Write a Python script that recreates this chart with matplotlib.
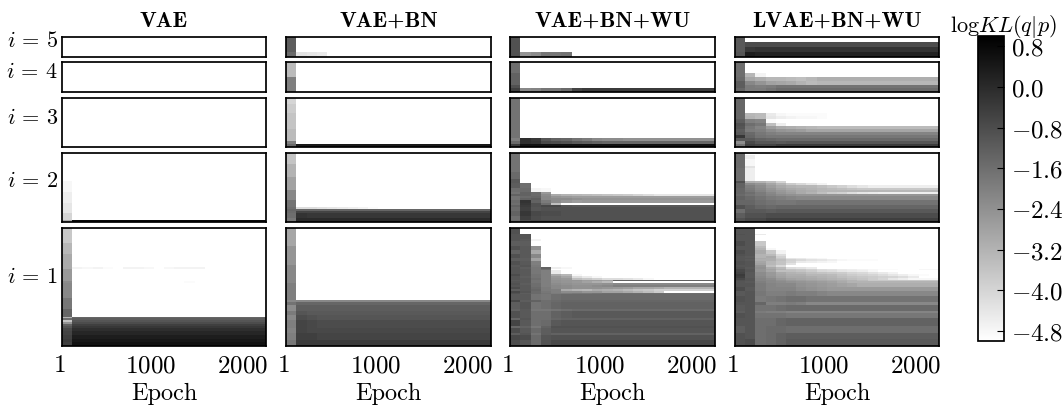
#!/usr/bin/env python3
"""KL heatmaps per latent layer, one column per model."""
import numpy as np
import matplotlib
matplotlib.use("Agg")
import matplotlib.pyplot as plt
from matplotlib.transforms import ScaledTranslation

plt.rcParams['mathtext.fontset'] = 'cm'
plt.rcParams['font.family'] = ['cmr10', 'DejaVu Sans']
plt.rcParams['axes.unicode_minus'] = False
plt.rcParams['axes.formatter.use_mathtext'] = True

W, H = 1063, 406

MODELS = ['VAE', 'VAE+BN', 'VAE+BN+WU', 'LVAE+BN+WU']
LAYERS = [5, 4, 3, 2, 1]
N_BINS = 20
EPOCH_START, EPOCH_END = 1, 2230
XTICKS = [1, 1000, 2000]
CBAR_TICKS = [0.8, 0.0, -0.8, -1.6, -2.4, -3.2, -4.0, -4.8]
VMIN, VMAX = -5.0, 1.0

# panels: top to bottom (i=5..1). Each row is (latent units, log KL per epoch bin);
# a short row keeps its last value for the remaining bins.
VAE_I5 = [(4, [-5])]
VAE_I4 = [(8, [-5])]
VAE_I3 = [(16, [-5])]
VAE_I2 = [(13, [-5]), (5, [-4.8, -5]), (5, [-4.6, -5]), (5, [-4.4, -5]),
          (3, [-4.0, -5]), (1, [-3.0, 0.8])]
VAE_I1 = [(8, [-3.7, -5]), (6, [-3.3, -5]), (7, [-3.0, -5]),
          (1, [-3.0, -4.7, -4.8, -4.7, -4.9, -5, -4.7, -4.7, -4.8, -5, -4.8, -4.7, -4.7, -4.7, -5]),
          (7, [-2.6, -5]),
          (1, [-2.3, -5, -5, -5, -5, -5, -5, -5, -5, -5, -5, -5, -4.9, -5]),
          (8, [-2.2, -5]), (6, [-1.8, -5]), (4, [-1.4, -5]),
          (1, [-3.2, -1.4]), (1, [-1.6, -1.2]), (1, [-3.6, -1.0]), (1, [-2.5, -0.8]),
          (1, [-1.3, -0.5]), (1, [-1.0, -0.3]), (2, [-0.7, -0.1]), (2, [-0.6, 0.1]),
          (2, [-0.5, 0.3]), (2, [-0.4, 0.45]), (2, [-0.5, 0.6])]

BN_I5 = [(3, [-1.2, -5]), (1, [-1.5, -4.3, -4.4, -4.5, -5])]
BN_I4 = [(4, [-3.4, -5]), (4, [-2.0, -5])]
BN_I3 = [(2, [-4.0, -5]), (3, [-3.8, -5]), (5, [-3.6, -5]), (4, [-3.4, -5]),
         (1, [-2.0, -5]), (1, [-1.5, 0.4])]
BN_I2 = [(5, [-3.6, -5]), (6, [-3.2, -5]), (6, [-2.8, -5]), (5, [-2.2, -5]), (3, [-1.7, -5]),
         (1, [-1.6, -4.2, -4.2, -4.3, -4.4, -4.5, -4.6, -4.7, -4.9, -5]),
         (1, [-1.4, -1.4]), (1, [-1.5, -0.6]), (2, [-1.6, -0.2, -0.3]), (2, [-1.8, 0.0])]
BN_I1 = [(10, [-2.9, -5]), (10, [-2.5, -5]), (10, [-2.2, -5]), (9, [-2.0, -5]),
         (1, [-2.2, -2.2]), (2, [-1.7, -1.4]), (3, [-2.3, -1.2]), (2, [-1.9, -1.0, -1.1]),
         (3, [-2.2, -0.8, -0.9, -1.0]), (4, [-2.0, -0.6, -0.7, -0.8]), (3, [-2.1, -0.6, -0.7]),
         (4, [-2.0, -0.5, -0.5, -0.6]), (3, [-1.8, -0.4])]

WU_I5 = [(3, [-0.9, -5]), (1, [-0.9, -2.5, -2.3, -1.8, -1.8, -1.7, -5])]
WU_I4 = [(3, [-1.6, -5]), (3, [-1.3, -5]), (1, [-0.9, -5]),
         (1, [-0.5, -2.2, -2.1, -1.8, -1.8, -1.5, -0.6, -0.4])]
WU_I3 = [(13, [-1.7, -5]),
         (1, [-2.0, -0.1, -0.3, -1.0, -1.3, -1.4, -1.7, -1.9, -2.2, -2.3, -2.3, -2.4]),
         (1, [-1.5, -0.1, -0.2, -0.7, -0.8, -0.9, -1.1, -1.2, -1.3, -1.4]),
         (1, [-0.4, 0.6])]
WU_I2 = [(9, [-1.7, -5]), (3, [-1.5, -5]), (2, [-1.1, -5]), (2, [-1.2, -1.6, -5]),
         (2, [-1.6, -1.5, -4.7, -4.8, -5]),
         (1, [-1.7, -1.3, -1.5, -2.6, -5]),
         (1, [-1.3, -1.3, -1.5, -2.3, -3.0, -3.2, -3.3, -3.4, -3.5, -3.6, -3.7, -3.8, -4.0, -4.2, -4.4]),
         (1, [-1.7, -1.5, -1.4, -2.2, -2.5, -2.6, -2.7]),
         (1, [-1.7, -1.3, -1.2, -2.2, -2.3, -2.3, -2.4, -2.5]),
         (1, [-1.5, -0.2, -1.3, -1.9, -2.3, -2.5, -2.7, -2.6]),
         (1, [-1.6, -0.3, -0.9, -1.6, -3.5, -5]),
         (1, [-1.3, -0.4, -0.9, -0.7, -0.7, -1.0, -1.1]), (2, [-1.5, -0.5, -1.0, -0.9, -0.9]),
         (2, [-1.3, -0.3, -0.7, -0.8, -0.8, -0.9]), (2, [-1.6, -0.5, -0.8, -0.9]),
         (1, [-1.5, -0.8, -0.7, -0.7])]
WU_I1 = [(3, [-0.9, -5]), (3, [-1.0, -1.0, -5]), (1, [-1.0, -1.1, -4.7, -5]), (3, [-1.2, -1.2, -5]),
         (2, [-0.9, -1.1, -2.4, -5]), (2, [-1.3, -1.1, -3.0, -5]), (2, [-0.9, -1.1, -2.2, -5]),
         (2, [-1.2, -1.2, -2.8, -5]), (2, [-0.9, -1.1, -2.0, -5]), (1, [-1.1, -1.0, -1.9, -5]),
         (1, [-1.0, -1.2, -1.8, -1.3, -4.6, -4.8, -5]),
         (1, [-1.0, -1.1, -1.8, -1.6, -5]),
         (2, [-1.0, -1.1, -1.8, -2.0, -4.5, -5]),
         (1, [-0.8, -1.1, -1.7, -2.0, -3.0, -3.3, -4.8, -5]),
         (1, [-1.0, -1.2, -1.7, -2.0, -2.6, -2.9, -4.2, -4.5, -4.8, -5]),
         (1, [-1.0, -1.1, -1.6, -2.0, -2.5, -2.6, -3.5, -3.7, -3.9, -4.2, -4.2, -4.3, -4.5, -4.8, -5]),
         (1, [-1.1, -1.1, -1.7, -2.0, -2.4, -2.5, -2.5, -2.7, -2.7, -2.8, -1.3]),
         (1, [-1.0, -1.1, -1.7, -2.0, -2.4, -2.5, -2.6, -2.8, -3.1, -3.4, -5]),
         (1, [-0.9, -1.2, -1.6, -2.0, -2.3, -2.4, -2.5, -2.5, -2.5, -2.4, -2.2]),
         (1, [-1.0, -1.1, -1.6, -2.0, -2.2, -2.3, -2.4, -2.4, -2.3, -2.2, -2.0]),
         (1, [-0.8, -1.1, -1.5, -1.9, -2.2, -2.3, -2.4, -2.4, -2.4, -2.5, -2.6, -2.7, -2.9, -2.9, -3.0, -3.2]),
         (1, [-1.2, -1.1, -1.4, -1.9, -2.0, -3.0, -3.2, -3.3, -3.0, -3.1, -3.2, -3.4, -3.6, -3.7, -3.9]),
         (1, [-0.7, -1.0, -1.5, -1.8, -2.0, -2.3, -2.3, -2.5, -2.5, -2.8, -2.8, -3.0, -3.2, -3.5, -3.8, -5]),
         (1, [-0.9, -1.2, -1.5, -1.7, -1.9, -1.9, -1.8, -1.8, -1.7, -1.6]),
         (3, [-1.1, -1.1, -1.7, -1.8, -1.6, -1.5, -1.5]), (1, [-0.7, -1.2, -1.3, -1.6, -1.5, -1.4, -1.4]),
         (4, [-1.2, -1.0, -1.7, -1.6, -1.4, -1.3, -1.3]), (1, [-1.3, -1.1, -1.8, -1.8, -1.7, -1.6, -1.5]),
         (4, [-0.9, -1.1, -1.6, -1.6, -1.3, -1.2, -1.1]), (1, [-1.4, -1.0, -1.6, -1.6, -1.4, -1.3]),
         (3, [-0.6, -1.1, -1.6, -1.5, -1.1, -1.0]), (1, [-1.4, -1.3, -1.8, -1.3, -0.9]),
         (3, [-0.8, -1.1, -1.5, -1.2, -1.0]), (1, [-1.2, -1.0, -1.7, -1.2, -1.3]),
         (3, [-0.7, -0.8, -1.5, -1.0, -0.9]), (3, [-0.8, -1.0, -1.5, -0.9, -0.7])]

LVAE_I5 = [(1, [-1.1, -5]), (1, [-1.1, -0.8]), (1, [-1.1, -0.3, -0.2]), (1, [-1.0, 0.3, 0.2])]
LVAE_I4 = [(3, [-1.6, -5]), (1, [-1.6, -3.3, -4.7, -5]),
           (1, [-1.5, -2.9, -3.1, -3.3, -3.3, -3.4, -3.5, -3.3, -3.1]),
           (1, [-1.2, -2.2, -2.5, -2.8, -2.9, -3.0, -3.2, -3.4, -3.3]),
           (1, [-1.2, -1.9, -2.0, -1.9, -1.7]), (1, [-1.4, -1.9, -1.9, -1.7, -1.5])]
LVAE_I3 = [(5, [-1.4, -5]),
           (1, [-1.4, -3.3, -3.4, -4.5, -4.8, -4.9, -4.9, -4.9, -4.9, -5]),
           (1, [-1.4, -3.2, -3.4, -4.4, -4.6, -4.7, -4.8, -4.8, -4.9, -5]),
           (1, [-1.2, -2.0, -2.1, -4.9, -5]), (1, [-0.9, -1.6, -1.8, -3.5, -4.6, -5]),
           (1, [-1.0, -1.8, -2.1, -2.7, -3.0, -3.1, -3.2, -3.3, -3.4]),
           (1, [-1.2, -1.9, -2.0, -2.3, -2.5, -2.6, -2.7, -2.9, -2.9]),
           (1, [-1.1, -1.5, -1.8, -2.0, -2.1]), (1, [-0.3, -1.4, -1.7, -1.8]),
           (1, [-1.1, -1.1, -1.3, -1.4, -1.5]), (1, [-2.3, -0.7, -1.0, -1.0, -1.1, -1.0]),
           (1, [-1.7, -0.5, -0.6, -0.6, -0.4])]
LVAE_I2 = [(1, [-1.5, -5]), (2, [-1.5, -4.6, -5]), (3, [-1.5, -4.8, -5]), (1, [-1.5, -4.3, -5]),
           (6, [-1.6, -4.6, -5]), (1, [-0.9, -3.1, -3.2, -3.5, -4.0, -5]),
           (1, [-1.3, -2.3, -2.5, -2.9, -3.3, -3.8, -4.1, -4.4, -4.7, -5]),
           (1, [-1.3, -2.0, -2.3, -2.7, -3.0, -3.2, -3.3, -3.3, -3.5, -3.7, -3.9, -4.2, -4.4, -4.6]),
           (1, [-1.4, -1.9, -2.2, -2.5, -2.8, -3.0, -3.1, -3.2, -3.3, -3.4, -3.5, -3.6, -3.7]),
           (1, [-1.4, -1.8, -2.1, -2.4, -2.6, -2.8, -3.0, -3.1, -3.3]),
           (1, [-1.4, -1.6, -1.9, -2.2, -2.5, -2.7, -3.0, -3.2, -3.5, -3.8, -3.9, -4.2, -4.4, -4.5, -4.6]),
           (1, [-1.5, -1.7, -1.9, -2.1, -2.3, -2.4, -2.5]),
           (2, [-1.3, -1.5, -1.7, -1.9, -2.0, -2.1, -2.2]), (2, [-1.4, -1.4, -1.6, -1.7, -1.8, -1.8, -1.7]),
           (2, [-0.9, -1.2, -1.4, -1.5, -1.4]), (2, [-1.6, -1.1, -1.1, -1.2, -1.1]),
           (2, [-1.2, -0.9, -0.9, -0.8]), (2, [-0.9, -0.7, -0.7, -0.5])]
LVAE_I1 = [(3, [-1.0, -1.0, -5]), (1, [-0.9, -1.0, -4.5, -5]), (3, [-1.0, -1.0, -5]),
           (3, [-0.8, -1.0, -3.7, -5]), (1, [-1.0, -1.0, -3.4, -5]), (1, [-1.0, -1.0, -3.2, -4.8, -5]),
           (2, [-0.8, -1.0, -3.0, -3.7, -4.7, -5]), (1, [-0.9, -1.0, -3.2, -3.4, -4.2, -5]),
           (1, [-1.0, -1.1, -3.2, -3.0, -3.9, -5]),
           (1, [-1.0, -1.0, -3.0, -3.1, -3.7, -4.4, -4.5, -4.7, -4.8, -5]),
           (1, [-1.0, -1.1, -3.1, -3.1, -3.5, -3.9, -4.1, -4.3, -4.4, -4.6, -4.8, -4.9, -4.9, -4.9, -5]),
           (1, [-0.9, -1.0, -2.9, -3.3, -3.6, -4.0, -4.5, -4.6, -4.7, -4.8, -5]),
           (1, [-0.9, -1.0, -2.8, -3.3, -3.6, -4.3, -5]), (1, [-1.0, -1.0, -2.5, -3.5, -4.1, -5]),
           (1, [-0.9, -1.1, -2.4, -3.0, -3.4, -4.2, -4.3, -4.5, -5]),
           (1, [-0.7, -1.0, -2.5, -2.8, -3.2, -3.6, -3.7, -3.9, -4.2, -4.3, -4.5, -4.6, -4.7, -4.8, -4.9, -4.9, -5, -5, -4.8, -4.8]),
           (1, [-0.7, -1.0, -2.5, -2.9, -3.5, -3.5, -3.6, -3.8, -4.1, -4.2, -4.4, -4.5, -4.6, -4.8, -5]),
           (1, [-0.6, -1.1, -2.3, -2.6, -3.0, -3.2, -3.3, -3.5, -3.6, -3.7, -3.8, -4.0, -4.1, -4.3, -4.5, -4.7, -5]),
           (1, [-0.4, -1.1, -2.3, -2.6, -2.9, -3.1, -3.1, -3.3, -3.3, -3.4, -3.6, -3.8, -3.9, -4.0, -4.2, -4.4, -4.6, -4.8, -4.9, -5]),
           (1, [-0.5, -1.1, -2.2, -2.5, -2.8, -3.0, -3.0, -3.1, -3.2, -3.3, -3.5, -3.6, -3.7, -3.8, -3.9, -4.0, -4.2, -4.5, -5]),
           (1, [-0.7, -1.0, -2.1, -2.3, -2.6, -2.8, -2.9, -3.0, -3.1, -3.2, -3.3, -3.5, -3.6, -3.8, -4.0, -4.4, -4.6, -4.8]),
           (1, [-0.9, -1.0, -2.1, -2.2, -2.4, -2.6, -2.7, -2.8, -2.9, -3.0, -3.1, -3.2, -3.4, -3.7]),
           (1, [-1.0, -1.1, -2.0, -2.2, -2.3, -2.4, -2.5, -2.6, -2.7, -2.8, -3.0, -3.2]),
           (2, [-1.0, -1.0, -1.9, -2.1, -2.2, -2.2, -2.4, -2.5, -2.6, -2.7, -2.8, -2.9, -3.1]),
           (2, [-0.8, -1.1, -1.9, -2.1, -2.1, -2.1, -2.3, -2.4, -2.5, -2.6]),
           (3, [-1.1, -1.0, -1.8, -2.0, -2.0, -1.9, -2.0, -2.0, -2.1, -2.2]),
           (3, [-0.9, -1.0, -1.9, -1.8, -1.7, -1.6, -1.6, -1.7]),
           (2, [-1.0, -1.0, -1.4, -2.0, -2.0, -1.9, -2.0, -2.2]),
           (3, [-1.1, -1.0, -1.7, -1.7, -1.6, -1.5]), (1, [-1.2, -1.0, -1.9, -2.0, -2.0, -2.1]),
           (3, [-0.9, -1.0, -1.7, -1.7, -1.7, -1.8]),
           (4, [-1.0, -1.0, -1.6, -1.6, -1.4, -1.3]), (4, [-1.2, -1.0, -1.6, -1.5, -1.5, -1.6]),
           (3, [-0.9, -1.0, -1.6, -1.5, -1.3, -1.2]), (4, [-0.9, -0.8, -1.6, -1.5, -1.3, -1.1])]

PANELS = [[VAE_I5, VAE_I4, VAE_I3, VAE_I2, VAE_I1],
          [BN_I5, BN_I4, BN_I3, BN_I2, BN_I1],
          [WU_I5, WU_I4, WU_I3, WU_I2, WU_I1],
          [LVAE_I5, LVAE_I4, LVAE_I3, LVAE_I2, LVAE_I1]]

# axes boxes in pixels of the picture (left, right) / (top, bottom)
COL_PX = [(62, 266), (286, 491), (510, 715), (735, 939)]
ROW_PX = [(38, 58), (63, 93), (99, 148), (154, 223), (229, 347)]
LABEL_Y_PX = [41, 72, 118, 181, 277]


def px_axes(fig, x0, x1, y0, y1):
    return fig.add_axes([x0/W, 1 - y1/H, (x1-x0)/W, (y1-y0)/H])


def expand(rows):
    out = []
    for count, vals in rows:
        full = list(vals) + [vals[-1]] * (N_BINS - len(vals))
        out.extend([full] * count)
    return np.array(out, dtype=float)


def main():
    fig = plt.figure(figsize=(W/100, H/100), dpi=100, facecolor='white')
    edges = np.linspace(EPOCH_START, EPOCH_END, N_BINS + 1)
    mesh = None
    for c, (x0, x1) in enumerate(COL_PX):
        for r, (y0, y1) in enumerate(ROW_PX):
            ax = px_axes(fig, x0, x1, y0, y1)
            z = expand(PANELS[c][r])
            mesh = ax.pcolormesh(edges, np.arange(z.shape[0] + 1), z, cmap='gray_r',
                                 vmin=VMIN, vmax=VMAX, shading='flat', rasterized=True)
            ax.set_xlim(EPOCH_START, EPOCH_END)
            ax.set_ylim(z.shape[0], 0)
            ax.set_yticks([])
            for s in ax.spines.values():
                s.set_linewidth(1.25)
            if r == len(ROW_PX) - 1:
                ax.set_xticks(XTICKS)
                ax.set_xticklabels([f'${t}$' for t in XTICKS], fontsize=18)
                ax.tick_params(axis='x', length=0, pad=6)
                shift = ScaledTranslation(-2.5/100, 0, fig.dpi_scale_trans)
                for lab in ax.get_xticklabels():
                    lab.set_transform(lab.get_transform() + shift)
                ax.set_xlabel('Epoch', fontsize=17.5, labelpad=4)
            else:
                ax.set_xticks([])
            if r == 0:
                ax.set_title(MODELS[c], fontfamily='cmb10', fontsize=16, pad=8)
            if c == 0:
                fig.text(58/W, 1 - LABEL_Y_PX[r]/H, rf'$i\,=\,{LAYERS[r]}$', fontsize=16,
                         ha='right', va='center')

    cax = px_axes(fig, 978, 1004, 37, 342)
    cb = fig.colorbar(mesh, cax=cax)
    cb.set_ticks(CBAR_TICKS)
    cb.set_ticklabels([f'${t:.1f}$' for t in CBAR_TICKS], fontsize=18)
    cax.tick_params(axis='y', direction='in', length=5, width=0.8, pad=5, right=True)
    cb.outline.set_linewidth(1.25)
    fig.text(1003.5/W, 1 - 26/H, r'$\mathrm{log}KL(q|p)$', fontsize=16, ha='center', va='center')

    fig.savefig('out.png', dpi=100, facecolor='white')
    plt.close(fig)


if __name__ == "__main__":
    main()
